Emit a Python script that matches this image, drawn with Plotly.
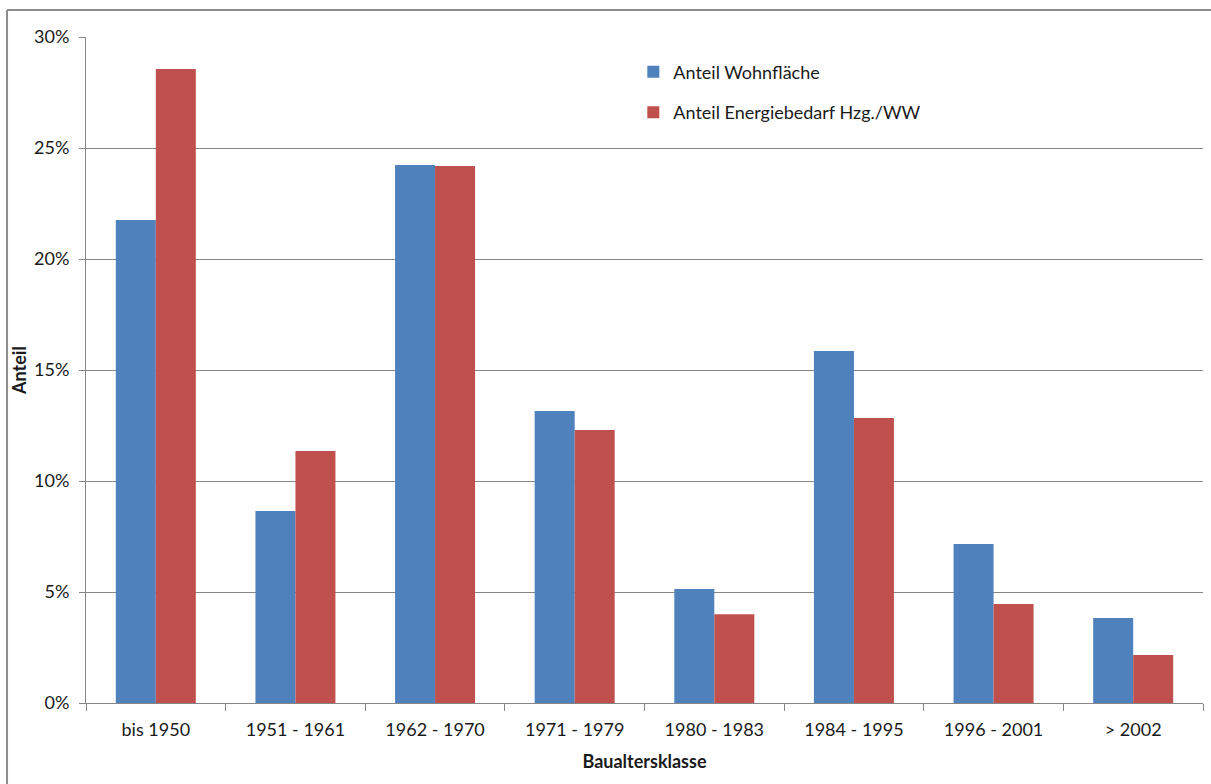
import plotly.graph_objects as go

categories = ["bis 1950", "1951 - 1961", "1962 - 1970", "1971 - 1979",
              "1980 - 1983", "1984 - 1995", "1996 - 2001", "> 2002"]
wohnflaeche = [0.2176, 0.0865, 0.2423, 0.1315, 0.0514, 0.1586, 0.0716, 0.0383]
energiebedarf = [0.2856, 0.1135, 0.2419, 0.1230, 0.0400, 0.1284, 0.0446, 0.0216]
y_ticks = [0, 0.05, 0.10, 0.15, 0.20, 0.25, 0.30]
y_tick_text = ["0%", "5%", "10%", "15%", "20%", "25%", "30%"]

FONT = "Lato, Calibri, Carlito, sans-serif"
GRID = "#868686"
TXT = "#1a1a1a"

fig = go.Figure()
fig.add_trace(go.Bar(
    x=categories, y=wohnflaeche, name="Anteil Wohnfläche",
    marker=dict(color="#4F81BD", line=dict(width=0)),
    legendgroup="a",
))
fig.add_trace(go.Bar(
    x=categories, y=energiebedarf, name="Anteil Energiebedarf Hzg./WW",
    marker=dict(color="#C0504D", line=dict(width=0)),
    legendgroup="b",
))

fig.update_layout(
    width=1211, height=784,
    margin=dict(l=86, r=8, t=37, b=81),
    paper_bgcolor="white", plot_bgcolor="white",
    font=dict(family=FONT, size=18, color=TXT),
    barmode="group", bargap=0.427, bargroupgap=0,
    showlegend=True,
    legend=dict(
        x=0.49, y=0.975, xanchor="left", yanchor="top",
        font=dict(family=FONT, size=18, color=TXT),
        bgcolor="rgba(0,0,0,0)", tracegroupgap=14,
        itemwidth=30,
    ),
    xaxis=dict(
        showline=True, linecolor=GRID, linewidth=1,
        ticks="outside", tickcolor=GRID, ticklen=7,
        tickson="boundaries", showgrid=False,
        tickfont=dict(family=FONT, size=18, color=TXT),
        ticklabelstandoff=10,
        title=dict(text="<b>Baualtersklasse</b>", font=dict(family=FONT, size=18, color=TXT), standoff=16),
    ),
    yaxis=dict(
        range=[0, 0.30], tickvals=y_ticks, ticktext=y_tick_text,
        showline=True, linecolor=GRID, linewidth=1,
        ticks="outside", tickcolor=GRID, ticklen=6,
        showgrid=True, gridcolor=GRID, gridwidth=1,
        tickfont=dict(family=FONT, size=18, color=TXT),
        ticklabelstandoff=6,
        zeroline=False,
        title=dict(text="<b>Anteil</b>", font=dict(family=FONT, size=18, color=TXT), standoff=2),
    ),
)

# outer chart frame (left and top edges visible)
fig.add_shape(type="line", xref="paper", yref="paper",
              x0=-0.0707, x1=-0.0707, y0=-0.2, y1=1.0405,
              line=dict(color="#8c8c8c", width=2))
fig.add_shape(type="line", xref="paper", yref="paper",
              x0=-0.0707, x1=1.1, y0=1.0405, y1=1.0405,
              line=dict(color="#8c8c8c", width=2))

fig.write_html("out.html")
